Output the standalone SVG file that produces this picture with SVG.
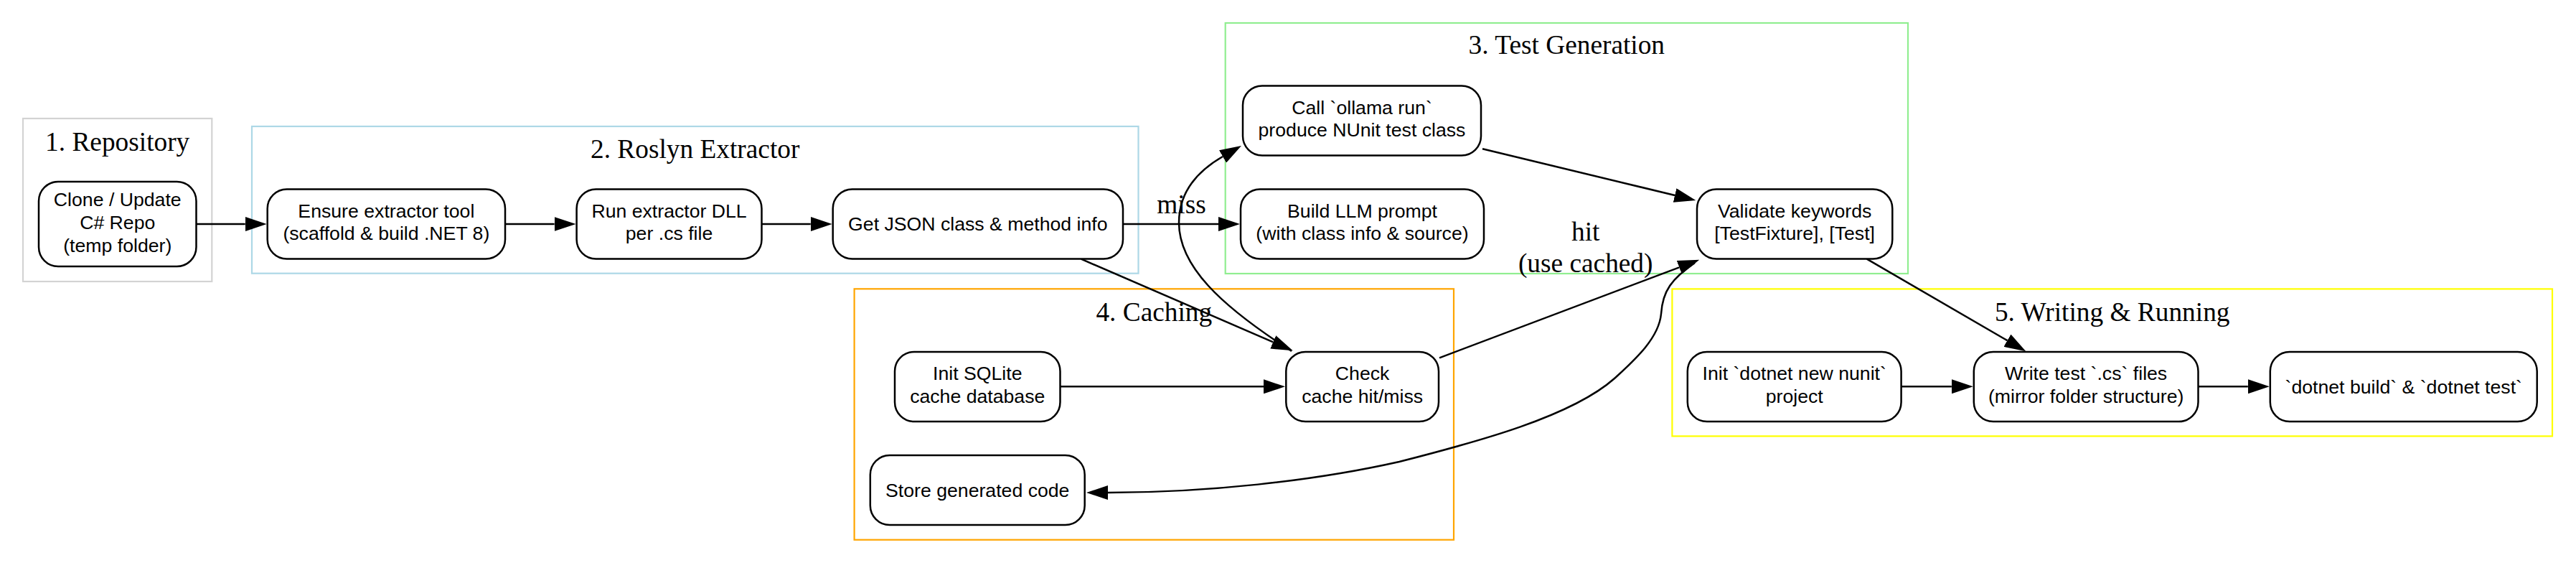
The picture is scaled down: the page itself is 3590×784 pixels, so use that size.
<svg xmlns="http://www.w3.org/2000/svg" width="3590" height="784" viewBox="0 0 3590 784">
<style>
.cl{fill:none;stroke-width:2.2}
.ct{font-family:"Liberation Serif","Times New Roman",serif;font-size:37.33px;text-anchor:middle;fill:#000}
.nd rect{fill:#fff;stroke:#000;stroke-width:2.5}
.nd text{font-family:"Liberation Sans",Arial,Helvetica,sans-serif;font-size:26.67px;text-anchor:middle;fill:#000}
.ed path{fill:none;stroke:#000;stroke-width:2.5}
.el{font-family:"Liberation Serif","Times New Roman",serif;font-size:37.33px;text-anchor:middle;fill:#000}
</style>
<defs>
<marker id="ah" viewBox="0 0 30 20" refX="0" refY="10" markerWidth="30" markerHeight="20" markerUnits="userSpaceOnUse" orient="auto">
<path d="M0,0 L30,10 L0,20 Z" fill="#000"/>
</marker>
</defs>
<rect width="3590" height="784" fill="#fff"/>

<g id="cluster_repo">
<rect class="cl" x="32" y="165" width="263.3" height="227" stroke="#d3d3d3"/>
<text class="ct" x="163.7" y="210">1. Repository</text>
</g>
<g id="cluster_roslyn">
<rect class="cl" x="351" y="176" width="1235.5" height="204.7" stroke="#add8e6"/>
<text class="ct" x="968.7" y="220">2. Roslyn Extractor</text>
</g>
<g id="cluster_testgen">
<rect class="cl" x="1707.7" y="32" width="951.3" height="349" stroke="#90ee90"/>
<text class="ct" x="2183.3" y="75">3. Test Generation</text>
</g>
<g id="cluster_cache">
<rect class="cl" x="1190.6" y="402.3" width="835.4" height="349.4" stroke="#ffa500"/>
<text class="ct" x="1608.3" y="446.7">4. Caching</text>
</g>
<g id="cluster_write">
<rect class="cl" x="2330.4" y="402.4" width="1226.6" height="205" stroke="#ffff00"/>
<text class="ct" x="2943.7" y="446.7">5. Writing &amp; Running</text>
</g>

<g id="edges" class="ed">
<path d="M273.5,312 H341.7" marker-end="url(#ah)"/>
<path d="M704,312 H772.6" marker-end="url(#ah)"/>
<path d="M1061.5,312 H1129.7" marker-end="url(#ah)"/>
<path d="M1565,312 H1698" marker-end="url(#ah)"/>
<path d="M1506.7,360.7 L1774.2,476.4" marker-end="url(#ah)"/>
<path d="M1800,489 C1700,425 1643,370 1643,310 C1643,270 1665,240.5 1704,218" marker-end="url(#ah)"/>
<path d="M2066,207.3 L2334.1,272" marker-end="url(#ah)"/>
<path d="M2006,498.3 L2340.2,372.3" marker-end="url(#ah)"/>
<path d="M2362,366 C2330,388 2317,405 2315,437 C2312,470 2280,500 2250,527 C2190,580 2060,615 1950,643 C1830,670 1680,686 1544,686" marker-end="url(#ah)"/>
<path d="M1477.5,538.3 H1761" marker-end="url(#ah)"/>
<path d="M2601.7,360.7 L2797.4,474.2" marker-end="url(#ah)"/>
<path d="M2649.6,538.3 H2719.8" marker-end="url(#ah)"/>
<path d="M3063.5,538.3 H3132.8" marker-end="url(#ah)"/>
<text class="el" x="1646.5" y="296.7">miss</text>
<text class="el" x="2209.7" y="335">hit</text>
<text class="el" x="2209.7" y="379.3">(use cached)</text>
</g>

<g id="clone" class="nd">
<rect x="54" y="253" width="219.5" height="118" rx="27" ry="27"/>
<text x="163.75" y="287">Clone / Update</text>
<text x="163.75" y="319">C# Repo</text>
<text x="163.75" y="351">(temp folder)</text>
</g>
<g id="ensure" class="nd">
<rect x="372.7" y="263.5" width="331.3" height="97" rx="27" ry="27"/>
<text x="538.35" y="302.5">Ensure extractor tool</text>
<text x="538.35" y="334">(scaffold &amp; build .NET 8)</text>
</g>
<g id="run_extractor" class="nd">
<rect x="803.6" y="263.5" width="257.9" height="97" rx="27" ry="27"/>
<text x="932.55" y="302.5">Run extractor DLL</text>
<text x="932.55" y="334">per .cs file</text>
</g>
<g id="get_json" class="nd">
<rect x="1160.7" y="263.5" width="404.3" height="97" rx="27" ry="27"/>
<text x="1362.85" y="321">Get JSON class &amp; method info</text>
</g>
<g id="call_ollama" class="nd">
<rect x="1732" y="119.5" width="332" height="97" rx="27" ry="27"/>
<text x="1898" y="158.5">Call `ollama run`</text>
<text x="1898" y="190">produce NUnit test class</text>
</g>
<g id="build_prompt" class="nd">
<rect x="1729" y="263.5" width="339" height="97" rx="27" ry="27"/>
<text x="1898.5" y="302.5">Build LLM prompt</text>
<text x="1898.5" y="334">(with class info &amp; source)</text>
</g>
<g id="validate" class="nd">
<rect x="2365" y="263.5" width="272.3" height="97" rx="27" ry="27"/>
<text x="2501.15" y="302.5">Validate keywords</text>
<text x="2501.15" y="334">[TestFixture], [Test]</text>
</g>
<g id="init_sqlite" class="nd">
<rect x="1247" y="490" width="230.5" height="97" rx="27" ry="27"/>
<text x="1362.25" y="529">Init SQLite</text>
<text x="1362.25" y="560.5">cache database</text>
</g>
<g id="check_cache" class="nd">
<rect x="1792.3" y="490" width="212.7" height="97" rx="27" ry="27"/>
<text x="1898.65" y="529">Check</text>
<text x="1898.65" y="560.5">cache hit/miss</text>
</g>
<g id="store_code" class="nd">
<rect x="1212.8" y="634" width="298.9" height="97" rx="27" ry="27"/>
<text x="1362.25" y="691.5">Store generated code</text>
</g>
<g id="init_dotnet" class="nd">
<rect x="2351.8" y="490" width="297.8" height="97" rx="27" ry="27"/>
<text x="2500.7" y="529">Init `dotnet new nunit`</text>
<text x="2500.7" y="560.5">project</text>
</g>
<g id="write_tests" class="nd">
<rect x="2750.8" y="490" width="312.7" height="97" rx="27" ry="27"/>
<text x="2907.15" y="529">Write test `.cs` files</text>
<text x="2907.15" y="560.5">(mirror folder structure)</text>
</g>
<g id="dotnet_build" class="nd">
<rect x="3163.8" y="490" width="371.9" height="97" rx="27" ry="27"/>
<text x="3349.75" y="547.5">`dotnet build` &amp; `dotnet test`</text>
</g>
</svg>
